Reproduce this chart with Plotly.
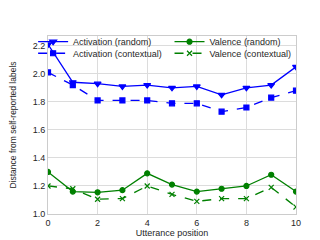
import plotly.graph_objects as go

positions = list(range(11))
act_random = [2.21, 1.94, 1.93, 1.91, 1.92, 1.90, 1.91, 1.85, 1.90, 1.92, 2.05]
act_context = [2.01, 1.92, 1.81, 1.81, 1.81, 1.79, 1.79, 1.73, 1.76, 1.83, 1.88]
val_random = [1.30, 1.16, 1.155, 1.17, 1.29, 1.21, 1.16, 1.18, 1.20, 1.28, 1.16]
val_context = [1.20, 1.18, 1.105, 1.11, 1.20, 1.14, 1.09, 1.11, 1.11, 1.19, 1.05]

BLUE = "#0000ff"
GREEN = "#008000"

fig = go.Figure()
series = [
    ("Activation (random)", act_random, BLUE, "solid", "triangle-down", 6, "legend"),
    ("Activation (contextual)", act_context, BLUE, "dash", "square", 5, "legend2"),
    ("Valence (random)", val_random, GREEN, "solid", "circle", 5, "legend3"),
    ("Valence (contextual)", val_context, GREEN, "dash", "x-thin-open", 5, "legend4"),
]
for name, ys, col, dash, sym, sz, lg in series:
    fig.add_trace(go.Scatter(
        x=positions, y=ys, name=name, mode="lines+markers",
        line=dict(color=col, width=1.3, dash=dash),
        marker=dict(symbol=sym, size=sz, color=col, line=dict(color=col, width=1.2)),
        legend=lg,
    ))

axis_common = dict(
    showgrid=True, gridcolor="#dcdcdc", gridwidth=1,
    showline=True, linecolor="#cccccc", linewidth=1, mirror=True,
    zeroline=False, ticks="", tickfont=dict(size=9, color="#262626"),
)

def leg(x, y):
    return dict(x=x, y=y, xanchor="left", yanchor="middle",
                bgcolor="rgba(0,0,0,0)", font=dict(size=9, color="#262626"),
                itemwidth=30)

fig.update_layout(
    width=320, height=240,
    margin=dict(l=40, r=32, t=28, b=27),
    paper_bgcolor="white", plot_bgcolor="white",
    font=dict(family="Liberation Sans, Arial, sans-serif", size=9, color="#262626"),
    xaxis=dict(range=[0, 10], tickvals=[0, 2, 4, 6, 8, 10],
               title=dict(text="Utterance position", font=dict(size=9), standoff=2),
               automargin=True, **axis_common),
    yaxis=dict(range=[1.0, 2.27], tickvals=[1.0, 1.2, 1.4, 1.6, 1.8, 2.0, 2.2],
               tickformat=".1f",
               title=dict(text="Distance from self-reported labels", font=dict(size=8.5)),
               automargin=False, **axis_common),
    legend=leg(-0.06, 0.968),
    legend2=leg(-0.06, 0.903),
    legend3=leg(0.49, 0.968),
    legend4=leg(0.49, 0.903),
    showlegend=True,
)

fig.write_html("out.html")
